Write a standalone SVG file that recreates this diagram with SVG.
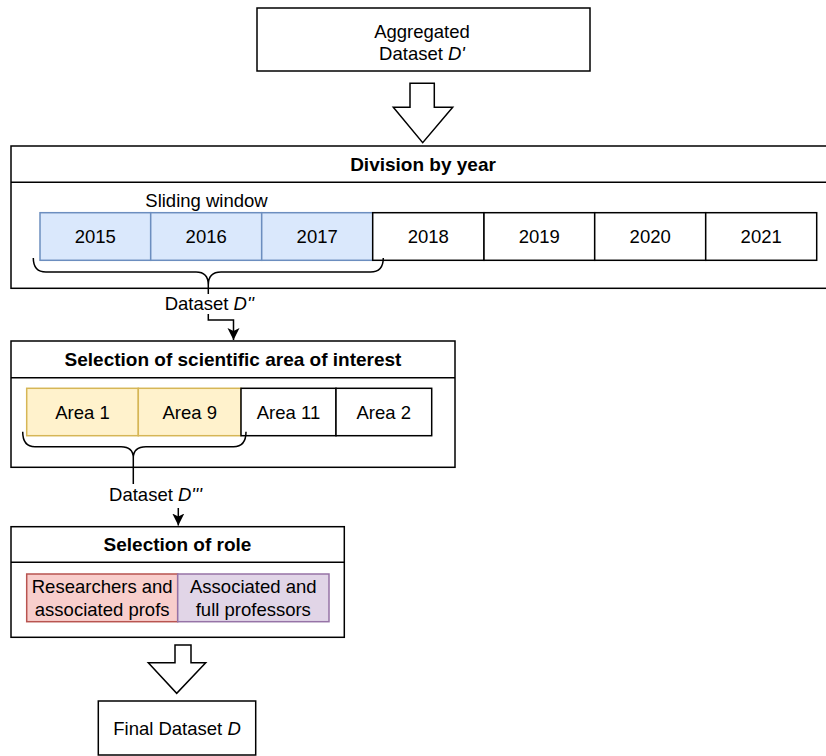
<svg xmlns="http://www.w3.org/2000/svg" width="826" height="756" viewBox="0 0 826 756">
  <style>
    text { font-family: "Liberation Sans", Arial, sans-serif; font-size: 18.5px; fill: #000; text-anchor: middle; }
    .b { font-weight: bold; font-size: 19px; }
    .box { fill: #fff; stroke: #000; stroke-width: 1.5; }
    .line { fill: none; stroke: #000; stroke-width: 1.5; }
    .blue { fill: #dae8fc; stroke: #6c8ebf; stroke-width: 1.5; }
    .yellow { fill: #fff2cc; stroke: #d6b656; stroke-width: 1.5; }
    .red { fill: #f8cecc; stroke: #b85450; stroke-width: 1.5; }
    .purple { fill: #e1d5e7; stroke: #9673a6; stroke-width: 1.5; }
    .big { fill: #fff; stroke: #000; stroke-width: 1.5; stroke-linejoin: miter; }
    .lbl { fill: #fff; stroke: none; }
  </style>
  <defs>
    <marker id="arr" markerUnits="userSpaceOnUse" markerWidth="12" markerHeight="14" viewBox="0 0 12 14" refX="12" refY="7" orient="auto">
      <path d="M0,1 L12,7 L0,13 L3,7 z" fill="#000"/>
    </marker>
  </defs>

  <g id="aggregated">
    <rect class="box" x="257" y="8" width="333" height="63"/>
    <text x="422" y="37.5">Aggregated</text>
    <text x="422" y="60">Dataset <tspan font-style="italic">D'</tspan></text>
  </g>

  <g id="arrow-big-1">
    <path class="big" d="M410,83.3 H434.3 V107.3 H452.7 L422.7,142.7 L393.3,107.3 H410 Z"/>
  </g>

  <g id="division">
    <rect class="box" x="11" y="146" width="824" height="142.3"/>
    <line class="line" x1="11" y1="182.3" x2="835" y2="182.3"/>
    <text class="b" x="423" y="171">Division by year</text>
    <text x="206.5" y="207">Sliding window</text>
    <g id="y2015"><rect class="blue" x="40" y="212.7" width="110.7" height="47.6"/><text x="95.3" y="243">2015</text></g>
    <g id="y2016"><rect class="blue" x="150.7" y="212.7" width="111" height="47.6"/><text x="206.2" y="243">2016</text></g>
    <g id="y2017"><rect class="blue" x="261.7" y="212.7" width="111" height="47.6"/><text x="317.2" y="243">2017</text></g>
    <g id="y2018"><rect class="box" x="372.7" y="212.7" width="111.3" height="47.6"/><text x="428.3" y="243">2018</text></g>
    <g id="y2019"><rect class="box" x="484" y="212.7" width="110.7" height="47.6"/><text x="539.3" y="243">2019</text></g>
    <g id="y2020"><rect class="box" x="594.7" y="212.7" width="111" height="47.6"/><text x="650.2" y="243">2020</text></g>
    <g id="y2021"><rect class="box" x="705.7" y="212.7" width="111" height="47.6"/><text x="761.2" y="243">2021</text></g>
    <path id="brace1" class="line" d="M33.3,258 Q33.3,272 46,272 H196 Q208.3,272 208.3,285 Q208.3,272 221,272 H370.5 Q383.3,272 383.3,258"/>
  </g>

  <g id="selection-area">
    <rect class="box" x="11" y="341" width="444" height="126.3"/>
    <line class="line" x1="11" y1="377.7" x2="455" y2="377.7"/>
    <text class="b" x="233" y="366">Selection of scientific area of interest</text>
    <g id="area1"><rect class="yellow" x="26.7" y="388.3" width="111.6" height="47.4"/><text x="82.5" y="418.5">Area 1</text></g>
    <g id="area9"><rect class="yellow" x="138.3" y="388.3" width="102.7" height="47.4"/><text x="189.7" y="418.5">Area 9</text></g>
    <g id="area11"><rect class="box" x="241" y="388.3" width="95" height="47.4"/><text x="288.5" y="418.5">Area 11</text></g>
    <g id="area2"><rect class="box" x="336" y="388.3" width="95.7" height="47.4"/><text x="383.8" y="418.5">Area 2</text></g>
    <path id="brace2" class="line" d="M22.7,431.7 Q22.7,446.7 35,446.7 H121 Q133.3,446.7 133.3,458 Q133.3,446.7 146,446.7 H233.5 Q246,446.7 246,431.7"/>
  </g>

  <g id="selection-role">
    <rect class="box" x="11" y="526.7" width="333.3" height="110.6"/>
    <line class="line" x1="11" y1="562.3" x2="344.3" y2="562.3"/>
    <text class="b" x="177.5" y="551">Selection of role</text>
    <g id="role-researchers">
      <rect class="red" x="26.7" y="574" width="151" height="47.7"/>
      <text x="102.2" y="592.5">Researchers and</text>
      <text x="102.2" y="615.5">associated profs</text>
    </g>
    <g id="role-full">
      <rect class="purple" x="177.7" y="574" width="151.3" height="47.7"/>
      <text x="253.3" y="592.5">Associated and</text>
      <text x="253.3" y="615.5">full professors</text>
    </g>
  </g>

  <g id="arrow-big-2">
    <path class="big" d="M175,645 H191 V662.7 H205.7 L176.7,693.3 L148.3,662.7 H175 Z"/>
  </g>

  <g id="final">
    <rect class="box" x="98.3" y="701" width="157.4" height="54"/>
    <text x="177" y="735">Final Dataset <tspan font-style="italic">D</tspan></text>
  </g>

  <g id="connectors">
    <path class="line" d="M208.3,285 V320 H233.5 V340" marker-end="url(#arr)"/>
    <rect class="lbl" x="165" y="294" width="88" height="20"/>
    <text x="209.3" y="310">Dataset <tspan font-style="italic">D''</tspan></text>
    <path class="line" d="M133.3,458 V492 H178.3 V525.5" marker-end="url(#arr)"/>
    <rect class="lbl" x="110" y="484" width="92" height="24"/>
    <text x="155.5" y="501">Dataset <tspan font-style="italic">D'''</tspan></text>
  </g>
</svg>
